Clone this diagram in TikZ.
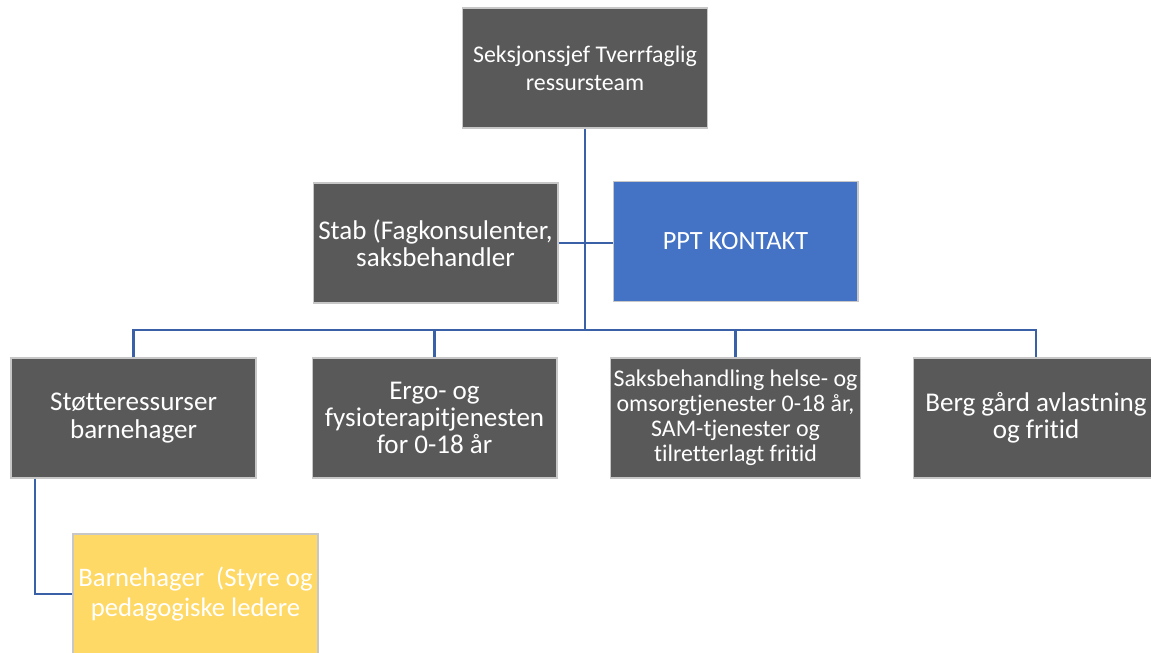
\documentclass[tikz,border=0pt]{standalone}
\usepackage{fontspec}
\setmainfont{Carlito}[Ligatures=NoCommon]
\usetikzlibrary{positioning}
\definecolor{cgrey}{HTML}{595959}
\definecolor{cblue}{HTML}{4472C4}
\definecolor{cyellow}{HTML}{FFD966}
\definecolor{cline}{HTML}{3A60A8}
\tikzset{
  unit/.style={draw=white!78!black, line width=0.6pt, fill=#1, text=white, align=center,
    minimum width=4.9cm, minimum height=2.4cm, inner sep=2pt,
    font=\fontsize{15.4}{15.5}\selectfont},
  unit/.default=cgrey,
  link/.style={draw=cline, line width=1.5pt},
}
\begin{document}
\begin{tikzpicture}[x=0.02cm, y=-0.02cm]
  \useasboundingbox (0,0) rectangle (1151,652);
  % top level
  \node[unit, font=\fontsize{13.6}{15.9}\selectfont] (sjef) at (585,68) {Seksjonssjef Tverrfaglig\\ressursteam};
  \node[unit] (stab) at (435.5,243) {Stab (Fagkonsulenter,\\saksbehandler};
  \node[unit=cblue, font=\fontsize{15}{15.5}\selectfont] (ppt) at (735.5,241.5) {PPT KONTAKT};
  % sections
  \node[unit] (stotte) at (133.5,418) {Støtteressurser\\barnehager};
  \node[unit] (ergo) at (434.5,418) {Ergo- og\\fysioterapitjenesten\\for 0-18 år};
  \node[unit, font=\fontsize{13.6}{14.2}\selectfont] (saks) at (735.5,418) {Saksbehandling helse- og\\omsorgtjenester 0-18 år,\\SAM-tjenester og\\tilretterlagt fritid};
  \node[unit] (berg) at (1036,418) {Berg gård avlastning\\og fritid};
  \node[unit=cyellow, font=\fontsize{15.2}{17}\selectfont] (bhg) at (195.5,594) {Barnehager~~(Styre og\\pedagogiske ledere};
  % connectors
  \coordinate (hub) at (585,330);
  \draw[link] (sjef.south) -- (hub);
  \draw[link] (stab.east) -- (stab.east -| ppt.west);
  \draw[link] (stotte.north) |- (hub) -| (berg.north);
  \draw[link] (ergo.north) -- (ergo.north |- hub);
  \draw[link] (saks.north) -- (saks.north |- hub);
  \draw[link] ([xshift=-1.97cm]stotte.south) |- (bhg.west);
\end{tikzpicture}
\end{document}
